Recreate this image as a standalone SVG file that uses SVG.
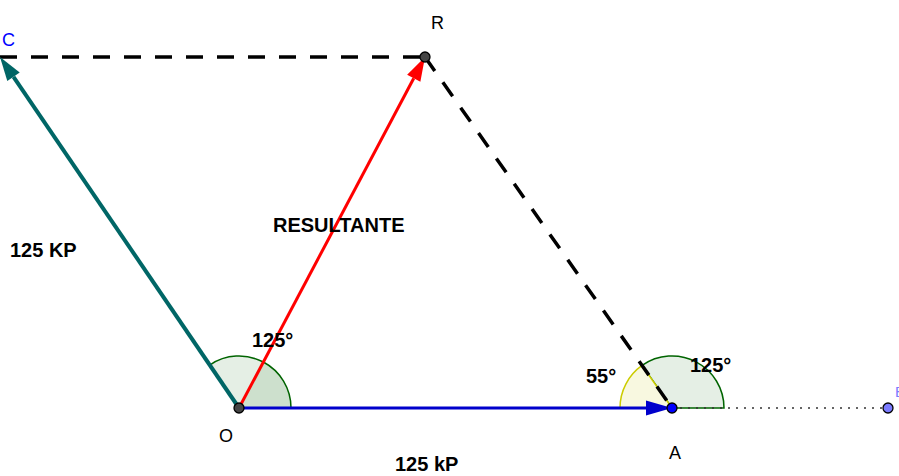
<svg xmlns="http://www.w3.org/2000/svg" width="899" height="476" viewBox="0 0 899 476">
<style>
.lbl{font-family:"Liberation Sans",Arial,sans-serif;font-size:18px;fill:#000}
.big{font-family:"Liberation Sans",Arial,sans-serif;font-size:20px;font-weight:bold;fill:#000}
.pt{stroke:#000;stroke-width:1.3}
.dash{stroke:#000;stroke-width:3.5;stroke-dasharray:17 14;fill:none}
.ang{fill:#006400;fill-opacity:0.1;stroke:#006400;stroke-width:1.5}
</style>
<rect width="899" height="476" fill="#fff"/>
<g id="angles">
<path class="ang" d="M239,408 L291,408 A52,52 0 0 0 209.73,365.02 Z"/>
<path d="M239,408 L291,408 A52,52 0 0 0 263.35,362.05 Z" fill="#006400" fill-opacity="0.1"/>
<path class="ang" d="M672,408 L724,408 A52,52 0 0 0 642.07,365.47 Z"/>
<path d="M672,408 L642.07,365.47 A52,52 0 0 0 620,408 Z" fill="#f8f8e0" stroke="#cccc00" stroke-width="1.5"/>
</g>
<g id="connectors">
<line class="dash" x1="0" y1="57" x2="425" y2="57"/>
<line class="dash" x1="425" y1="57" x2="672" y2="408"/>
<line x1="672" y1="408" x2="888" y2="408" stroke="#333" stroke-width="1.5" stroke-dasharray="2 6"/>
<line x1="239" y1="408" x2="13.51" y2="76.84" stroke="#006666" stroke-width="4"/>
<polygon points="0,57 19.71,72.62 7.31,81.06" fill="#006666"/>
<line x1="239" y1="408" x2="413.76" y2="78.21" stroke="#ff0000" stroke-width="3"/>
<polygon points="425,57 420.39,81.72 407.13,74.70" fill="#ff0000"/>
<line x1="239" y1="408" x2="646" y2="408" stroke="#0000cc" stroke-width="3"/>
<polygon points="672,408 646,400.5 646,415.5" fill="#0000cc"/>
</g>
<g id="labels">
<text class="big" x="273" y="232">RESULTANTE</text>
<text class="big" x="10" y="257">125 KP</text>
<text class="big" x="395" y="471">125 kP</text>
<text class="big" x="252" y="347">125°</text>
<text class="big" x="586" y="383">55°</text>
<text class="big" x="690" y="372">125°</text>
</g>
<g id="C"><text class="lbl" x="2" y="46" style="fill:#0000ff">C</text></g>
<g id="R"><circle class="pt" cx="425" cy="57" r="5" fill="#444"/><text class="lbl" x="431" y="29">R</text></g>
<g id="O"><circle class="pt" cx="239" cy="408" r="5" fill="#444"/><text class="lbl" x="219" y="442">O</text></g>
<g id="A"><circle class="pt" cx="672" cy="408" r="5" fill="#0000ff"/><text class="lbl" x="669" y="459">A</text></g>
<g id="B"><circle class="pt" cx="888" cy="408" r="5" fill="#7b7bff"/><text class="lbl" x="895" y="397" style="fill:#7b7bff;font-size:15px">B</text></g>
</svg>
